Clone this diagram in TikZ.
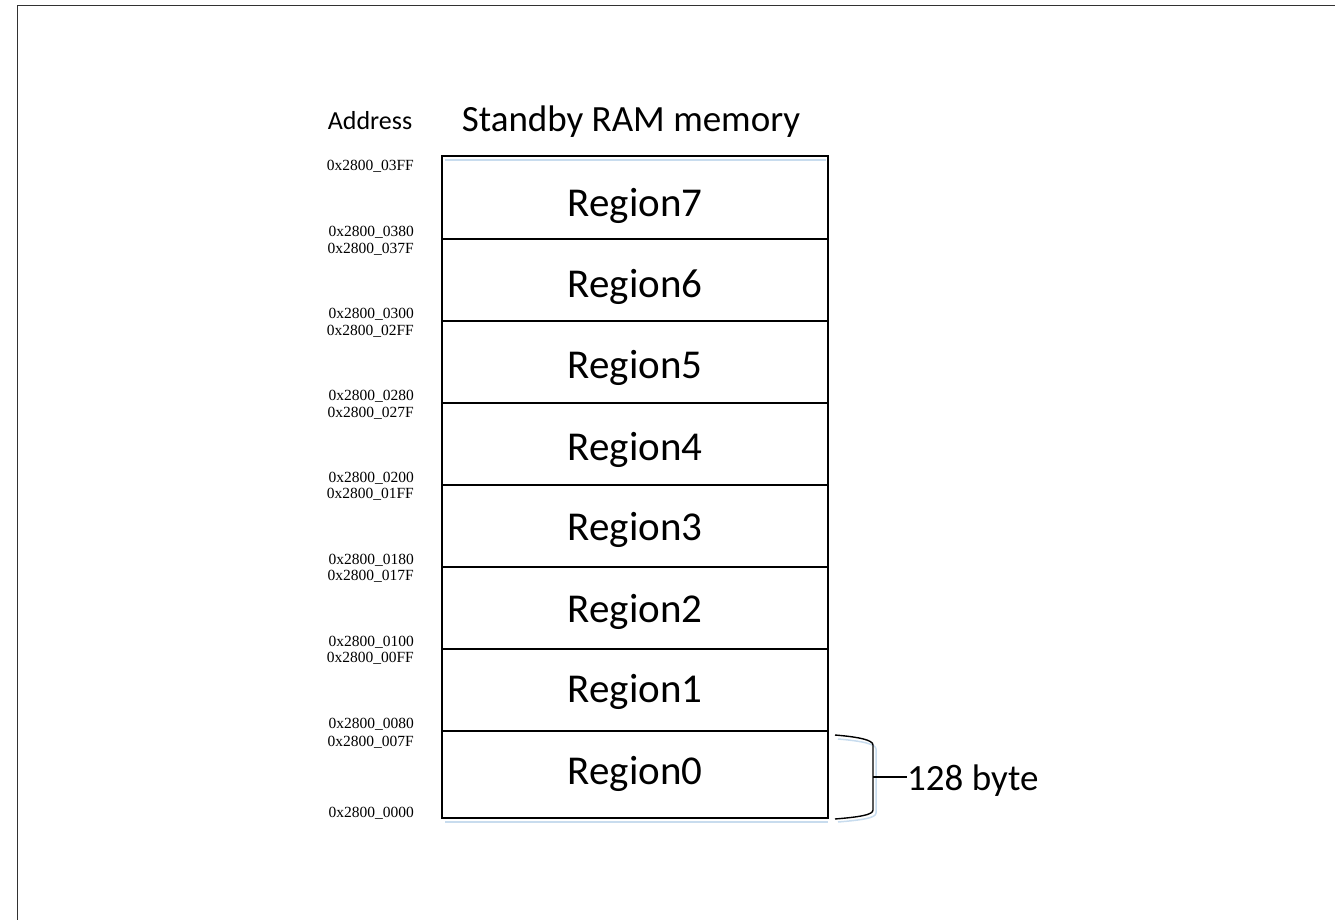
\documentclass[tikz,border=0pt]{standalone}
\usepackage{fontspec}
\setmainfont{Liberation Serif}
\newfontfamily\calfont{Carlito}
\begin{document}
\begin{tikzpicture}[x=1pt,y=-1pt,
  addr/.style={anchor=east,inner sep=0pt,font=\fontsize{15.5}{16}\selectfont},
  regbox/.style={draw=black,line width=2.4pt,minimum width=386pt,inner sep=0pt},
  regtext/.style={font=\calfont\fontsize{41}{44}\selectfont,inner sep=0pt},
  shadowline/.style={draw={rgb,255:red,200;green,220;blue,238},line width=2pt},
  bracketline/.style={draw=black,line width=1.4pt}]
\useasboundingbox (0,0) rectangle (1335,920);
% frame (cut at right and bottom)
\draw[draw={rgb,255:red,50;green,50;blue,50},line width=1.8pt] (17.5,925) -- (17.5,5.5) -- (1340,5.5);
% titles
\node[font=\calfont\fontsize{26}{28}\selectfont,inner sep=0pt] (addrtitle) at (370,121) {Address};
\node[font=\calfont\fontsize{37}{40}\selectfont,inner sep=0pt] (title) at (631,122) {Standby RAM memory};
% shadows
\draw[shadowline] (445,160) -- (826,160);
\draw[shadowline] (445,821.5) -- (828,821.5);
\draw[shadowline,line width=1.5pt] (838,739) .. controls (862,741) and (876,744) .. (876,749) -- (876,813) .. controls (876,818) and (862,820) .. (838,822);
% regions
\node[regbox,minimum height=83pt] (r7) at (635,197.5) {};
\node[regbox,minimum height=82pt] (r6) at (635,280) {};
\node[regbox,minimum height=82pt] (r5) at (635,362) {};
\node[regbox,minimum height=82pt] (r4) at (635,444) {};
\node[regbox,minimum height=82pt] (r3) at (635,526) {};
\node[regbox,minimum height=82pt] (r2) at (635,608) {};
\node[regbox,minimum height=82pt] (r1) at (635,690) {};
\node[regbox,minimum height=87pt] (r0) at (635,774.5) {};
\foreach \n/\y in {7/206,6/287,5/368,4/450,3/530,2/612,1/692,0/774}
  \node[regtext] (t\n) at (635,\y) {Region\n};
% addresses
\node[addr] (a03FF) at (414,166) {0x2800\_03FF};
\node[addr] (a0380) at (414,232) {0x2800\_0380};
\node[addr] (a037F) at (414,249) {0x2800\_037F};
\node[addr] (a0300) at (414,314) {0x2800\_0300};
\node[addr] (a02FF) at (414,331) {0x2800\_02FF};
\node[addr] (a0280) at (414,396) {0x2800\_0280};
\node[addr] (a027F) at (414,413) {0x2800\_027F};
\node[addr] (a0200) at (414,478) {0x2800\_0200};
\node[addr] (a01FF) at (414,494) {0x2800\_01FF};
\node[addr] (a0180) at (414,560) {0x2800\_0180};
\node[addr] (a017F) at (414,576) {0x2800\_017F};
\node[addr] (a0100) at (414,642) {0x2800\_0100};
\node[addr] (a00FF) at (414,658) {0x2800\_00FF};
\node[addr] (a0080) at (414,724) {0x2800\_0080};
\node[addr] (a007F) at (414,742) {0x2800\_007F};
\node[addr] (a0000) at (414,813) {0x2800\_0000};
% bracket
\draw[bracketline] (835,735) .. controls (859,737) and (873,740) .. (873,745) -- (873,810) .. controls (873,815) and (859,817) .. (835,819);
\coordinate (brmid) at (873,777);
\node[anchor=west,inner sep=0pt,font=\calfont\fontsize{37}{40}\selectfont] (size) at (907,781) {128 byte};
\draw[bracketline] (brmid) -- (brmid -| size.west);
\end{tikzpicture}
\end{document}
